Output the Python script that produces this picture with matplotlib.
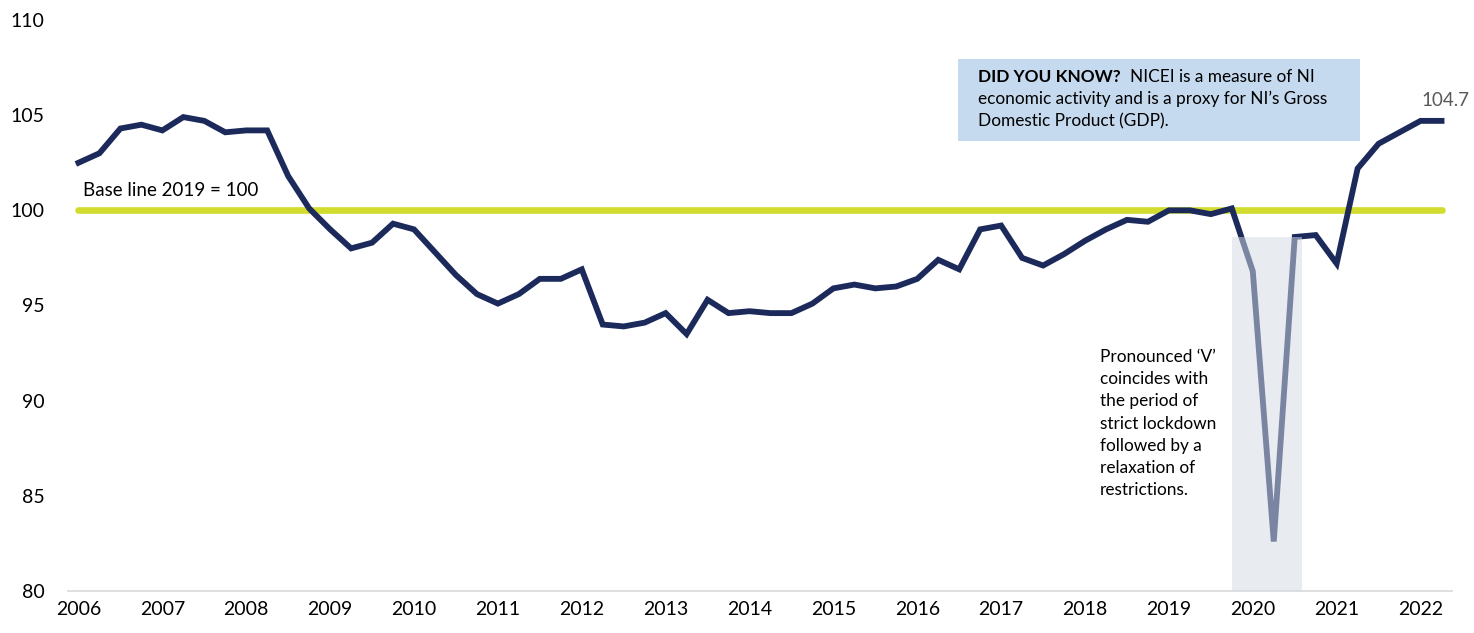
import matplotlib
matplotlib.use("Agg")
import matplotlib.pyplot as plt
from matplotlib.patches import Rectangle

plt.rcParams['font.family'] = ['Lato', 'DejaVu Sans']

# NICEI quarterly index, 2006 Q1 .. 2022 Q2 (2019 = 100)
years = list(range(2006, 2023))
nicei = [102.5, 103.0, 104.3, 104.5, 104.2, 104.9, 104.7, 104.1,
         104.2, 104.2, 101.8, 100.1, 99.0, 98.0, 98.3, 99.3,
         99.0, 97.8, 96.6, 95.6, 95.1, 95.6, 96.4, 96.4,
         96.9, 94.0, 93.9, 94.1, 94.6, 93.5, 95.3, 94.6,
         94.7, 94.6, 94.6, 95.1, 95.9, 96.1, 95.9, 96.0,
         96.4, 97.4, 96.9, 99.0, 99.2, 97.5, 97.1, 97.7,
         98.4, 99.0, 99.5, 99.4, 100.0, 100.0, 99.8, 100.1,
         96.8, 82.6, 98.6, 98.7, 97.2, 102.2, 103.5, 104.1,
         104.7, 104.7]
baseline = 100
last_label = "104.7"

navy = '#1b2a5b'
green = '#d1dc2e'

fig = plt.figure(figsize=(14.74, 6.33), dpi=100)
ax = fig.add_axes([68 / 1474, 1 - 591 / 633, (1452 - 68) / 1474, (591 - 20) / 633])

x = list(range(len(nicei)))
ax.plot([x[0], x[-1]], [baseline, baseline], color=green, lw=4.8,
        solid_capstyle='round', zorder=2)
ax.plot(x, nicei, color=navy, lw=4.2, solid_joinstyle='miter', zorder=3)

# lockdown shading sits over the line and lightens it
ax.add_patch(Rectangle((55.0, 80), 3.35, 18.6, facecolor='#d3d9e4',
                       alpha=0.52, edgecolor='none', zorder=4))

ax.set_xlim(-0.5, len(nicei) - 0.5)
ax.set_ylim(80, 110)
ax.set_yticks([80, 85, 90, 95, 100, 105, 110])
ax.set_xticks(range(0, len(nicei), 4))
ax.set_xticklabels([str(y) for y in years])
ax.tick_params(length=0, labelsize=14, colors='black', pad=7)
ax.tick_params(axis='y', pad=17)
for s in ['top', 'right', 'left']:
    ax.spines[s].set_visible(False)
ax.spines['bottom'].set_color('#d9d9d9')
ax.spines['bottom'].set_linewidth(1.2)

ax.text(0.2, 101.05, "Base line 2019 = 100", fontsize=13.5, va='center', ha='left')
ax.text(65.2, 105.75, last_label, fontsize=13.5, color='#595959', va='center', ha='center')

# info box
ax.add_patch(Rectangle((41.95, 103.65), 19.15, 4.31, facecolor='#c5d9ef',
                       edgecolor='none', zorder=1))
bold = ax.text(42.9, 107.0, "DID YOU KNOW?", fontsize=12.4, fontweight='bold',
               va='center', ha='left')
ax.annotate("NICEI is a measure of NI", xy=(1, 0.5), xycoords=bold,
            xytext=(7, 0), textcoords='offset points', fontsize=12.4,
            va='center', ha='left')
ax.text(42.9, 105.85, "economic activity and is a proxy for NI\u2019s Gross", fontsize=12.4,
        va='center', ha='left')
ax.text(42.9, 104.7, "Domestic Product (GDP).", fontsize=12.4, va='center', ha='left')

ax.text(48.7, 88.8, "Pronounced \u2018V\u2019\ncoincides with\nthe period of\nstrict lockdown\n"
        "followed by a\nrelaxation of\nrestrictions.", fontsize=12.4, va='center', ha='left',
        linespacing=1.47)

fig.savefig("out.png", dpi=100)
